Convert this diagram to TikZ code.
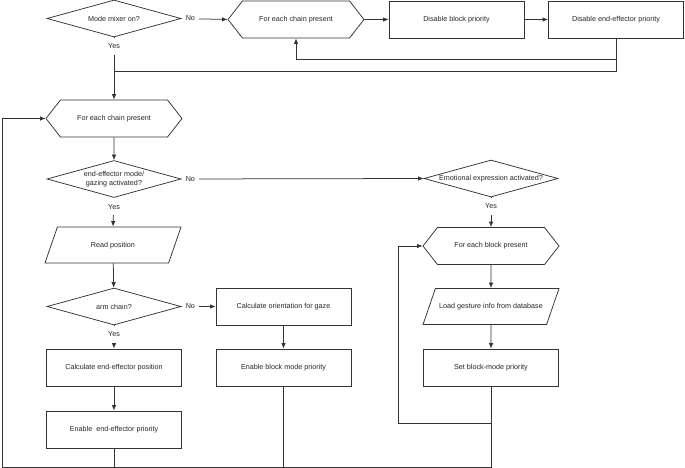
\documentclass[tikz,border=0pt]{standalone}
\usepackage{fontspec}
\setmainfont{Liberation Sans}
\usetikzlibrary{positioning,arrows.meta,shapes.geometric,shapes.symbols}

\begin{document}
\begin{tikzpicture}[x=1pt,y=-1pt,
  every node/.style={font=\fontsize{7.2}{8.6}\selectfont, text=black!85},
  conn/.style={draw=black!80, line width=0.75pt},
  arr/.style={conn, -{Latex[length=5.5pt,width=4.5pt]}},
  box/.style={conn, rectangle, fill=white, minimum width=135pt, minimum height=37pt, inner sep=0pt},
  dec/.style={conn, diamond, fill=white, aspect=3.6, minimum width=134pt, minimum height=37pt, inner sep=0pt, align=center},
  hexa/.style={conn, signal, fill=white, signal to=east and west, signal pointer angle=104, minimum width=136pt, minimum height=37pt, inner sep=0pt},
  io/.style={conn, trapezium, fill=white, trapezium left angle=71, trapezium right angle=109, trapezium stretches body=true, minimum width=136pt, text height=5.5pt, text depth=1.5pt, inner xsep=0pt, inner ysep=14.5pt},
  yes/.style={fill=white, inner xsep=1pt, inner ysep=6pt, pos=0, anchor=north},
  no/.style={fill=white, inner xsep=4pt, inner ysep=1pt, pos=0, anchor=west}]
  \useasboundingbox (0,0) rectangle (685,468);
  % top row
  \node[dec]  (mix)   at (114,18.5)  {Mode mixer on?};
  \node[hexa] (chn1)  at (296,19.5)  {For each chain present};
  \node[box]  (dblk)  at (456.5,19.5) {Disable block priority};
  \node[box]  (deff)  at (616,19.5)  {Disable end-effector priority};
  % main loop over chains
  \node[hexa] (chn2)  at (114,118.5) {For each chain present};
  \node[dec]  (gaze)  at (114,179)   {end-effector mode/\\gazing activated?};
  \node[io]   (rpos)  at (113,245)   {Read position};
  \node[dec]  (arm)   at (114,306.5) {arm chain?};
  \node[box]  (ceff)  at (114,367.5) {Calculate end-effector position};
  \node[box]  (eeff)  at (114,429.5) {Enable\ \ end-effector priority};
  \node[box]  (corient) at (283.5,306.5) {Calculate orientation for gaze};
  \node[box]  (eblk)  at (283.5,367.5) {Enable block mode priority};
  % emotional branch
  \node[dec]  (emo)   at (491,178.5) {Emotional expression activated?};
  \node[hexa] (blk)   at (491,246)   {For each block present};
  \node[io]   (gest)  at (491,306.5) {Load gesture info from database};
  \node[box]  (sblk)  at (491,367.5) {Set block-mode priority};
  \coordinate (bloop) at (398,423);
  \coordinate (btm)   at (2,467);

  \draw[arr] (mix.east) -- node[no] {No} (chn1.west);
  \draw[arr] (chn1) -- (dblk);
  \draw[arr] (dblk) -- (deff);
  \draw[arr] (deff.south) -- ++(0,21) -| (chn1.south);
  \draw[conn] (deff.south) |- (mix.south |- 0,71);
  \draw[arr] (mix.south) -- node[yes] {Yes} (chn2.north);
  \draw[arr] (chn2) -- (gaze);
  \draw[arr] (gaze.east) -- node[no] {No} (emo.west);
  \draw[arr] (gaze.south) -- node[yes] {Yes} (rpos.north);
  \draw[arr] (rpos) -- (arm);
  \draw[arr] (arm.east) -- node[no] {No} (corient.west);
  \draw[arr] (arm.south) -- node[yes] {Yes} (ceff.north);
  \draw[arr] (ceff) -- (eeff);
  \draw[arr] (corient) -- (eblk);
  \draw[arr] (emo.south) -- node[yes] {Yes} (blk.north);
  \draw[arr] (blk) -- (gest);
  \draw[arr] (gest) -- (sblk);
  % loops back
  \draw[arr] (sblk.south) |- (bloop) |- (blk.west);
  \draw[arr] (sblk.south) |- (btm) |- (chn2.west);
  \draw[conn] (eeff.south) -- (eeff.south |- btm);
  \draw[conn] (eblk.south) -- (eblk.south |- btm);
\end{tikzpicture}
\end{document}
